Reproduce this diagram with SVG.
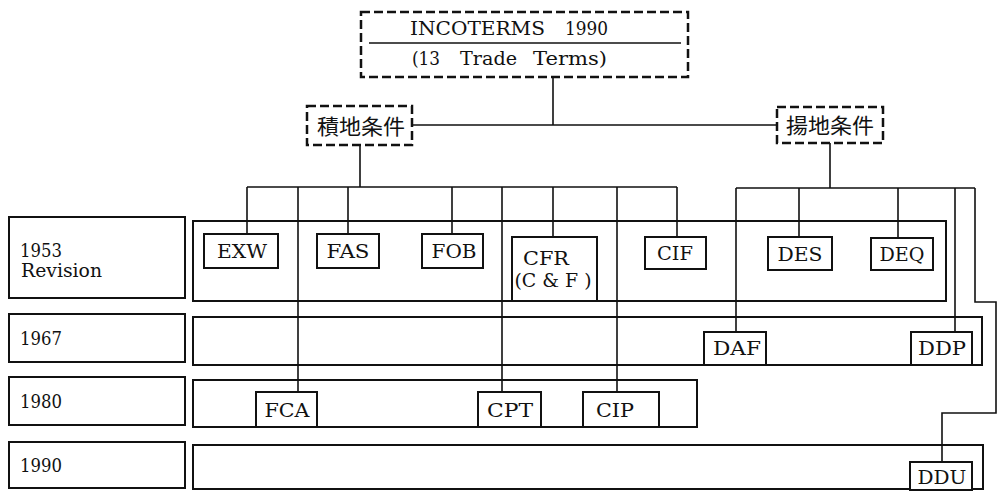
<svg xmlns="http://www.w3.org/2000/svg" width="997" height="491" viewBox="0 0 997 491">
<style>
.bg{fill:#fff}
.dash{fill:#fff;stroke:#111;stroke-width:2.5;stroke-dasharray:9 4}
.box{fill:#fff;stroke:#111;stroke-width:2}
.row{fill:none;stroke:#111;stroke-width:2}
.ln{fill:none;stroke:#111;stroke-width:1.6}
.t{font-family:"DejaVu Serif","Liberation Serif",serif;font-size:19px;fill:#111}
.c{text-anchor:middle}
.j{font-family:"Noto Sans CJK JP","Noto Sans CJK SC",sans-serif;font-size:21px;fill:#111;text-anchor:middle}
</style>
<rect class="bg" x="0" y="0" width="997" height="491"/>

<g id="rows">
  <g id="row-1953">
    <rect class="row" x="9" y="217" width="176" height="81"/>
    <rect class="row" x="193" y="221" width="753" height="80"/>
    <text class="t" x="20" y="257" textLength="42" lengthAdjust="spacingAndGlyphs">1953</text>
    <text class="t" x="21" y="277" textLength="81" lengthAdjust="spacingAndGlyphs">Revision</text>
  </g>
  <g id="row-1967">
    <rect class="row" x="9" y="314" width="176" height="48"/>
    <rect class="row" x="193" y="317" width="789" height="48"/>
    <text class="t" x="20" y="345" textLength="42" lengthAdjust="spacingAndGlyphs">1967</text>
  </g>
  <g id="row-1980">
    <rect class="row" x="9" y="377" width="176" height="48"/>
    <rect class="row" x="193" y="380" width="504" height="47"/>
    <text class="t" x="20" y="408" textLength="42" lengthAdjust="spacingAndGlyphs">1980</text>
  </g>
  <g id="row-1990">
    <rect class="row" x="9" y="442" width="176" height="46"/>
    <rect class="row" x="193" y="445" width="790" height="44"/>
    <text class="t" x="20" y="472" textLength="42" lengthAdjust="spacingAndGlyphs">1990</text>
  </g>
</g>

<g id="connectors">
  <path class="ln" d="M553 77V125M412 125H777"/>
  <path class="ln" d="M360 145V187M247 187H677"/>
  <path class="ln" d="M247 187V234M298 187V392M348 187V234M452 187V234M502 187V392M553 187V237M617 187V392M677 187V237"/>
  <path class="ln" d="M830 143V188M736 188H975"/>
  <path class="ln" d="M736 188V332M799 188V237M898 188V238M955 188V332"/>
  <path class="ln" d="M975 188V302H996V413H942V462"/>
</g>

<g id="incoterms">
  <rect class="dash" x="361" y="12" width="327" height="65"/>
  <line class="ln" x1="369" y1="43" x2="681" y2="43"/>
  <text class="t" y="35"><tspan x="410" textLength="135" lengthAdjust="spacingAndGlyphs">INCOTERMS</tspan> <tspan x="565" textLength="43" lengthAdjust="spacingAndGlyphs">1990</tspan></text>
  <text class="t" y="65"><tspan x="412" textLength="28" lengthAdjust="spacingAndGlyphs">(13</tspan> <tspan x="460" textLength="57" lengthAdjust="spacingAndGlyphs">Trade</tspan> <tspan x="533" textLength="74" lengthAdjust="spacingAndGlyphs">Terms)</tspan></text>
</g>

<g id="shipment">
  <rect class="dash" x="307" y="106" width="105" height="39"/>
  <text class="j" x="361" y="134" textLength="88" lengthAdjust="spacingAndGlyphs">積地条件</text>
</g>
<g id="arrival">
  <rect class="dash" x="777" y="107" width="106" height="36"/>
  <text class="j" x="830" y="133" textLength="88" lengthAdjust="spacingAndGlyphs">揚地条件</text>
</g>

<g id="EXW"><rect class="box" x="204" y="234" width="74" height="34"/><text class="t c" x="242" y="258" textLength="50" lengthAdjust="spacingAndGlyphs">EXW</text></g>
<g id="FAS"><rect class="box" x="317" y="234" width="62" height="34"/><text class="t c" x="348" y="258" textLength="43" lengthAdjust="spacingAndGlyphs">FAS</text></g>
<g id="FOB"><rect class="box" x="422" y="234" width="61" height="34"/><text class="t c" x="454" y="258" textLength="45" lengthAdjust="spacingAndGlyphs">FOB</text></g>
<g id="CFR"><rect class="box" x="512" y="237" width="85" height="64"/><text class="t c" x="546" y="265" textLength="46" lengthAdjust="spacingAndGlyphs">CFR</text><text class="t c" x="553" y="287" textLength="77" lengthAdjust="spacingAndGlyphs">(C &amp; F )</text></g>
<g id="CIF"><rect class="box" x="645" y="237" width="61" height="32"/><text class="t c" x="675" y="260" textLength="36" lengthAdjust="spacingAndGlyphs">CIF</text></g>
<g id="DES"><rect class="box" x="768" y="237" width="64" height="33"/><text class="t c" x="800" y="261" textLength="45" lengthAdjust="spacingAndGlyphs">DES</text></g>
<g id="DEQ"><rect class="box" x="871" y="238" width="62" height="32"/><text class="t c" x="902" y="261" textLength="45" lengthAdjust="spacingAndGlyphs">DEQ</text></g>
<g id="DAF"><rect class="box" x="704" y="332" width="62" height="33"/><text class="t c" x="737" y="355" textLength="48" lengthAdjust="spacingAndGlyphs">DAF</text></g>
<g id="DDP"><rect class="box" x="911" y="332" width="61" height="33"/><text class="t c" x="942" y="355" textLength="48" lengthAdjust="spacingAndGlyphs">DDP</text></g>
<g id="FCA"><rect class="box" x="256" y="392" width="61" height="35"/><text class="t c" x="287" y="417" textLength="45" lengthAdjust="spacingAndGlyphs">FCA</text></g>
<g id="CPT"><rect class="box" x="478" y="392" width="63" height="35"/><text class="t c" x="510" y="417" textLength="46" lengthAdjust="spacingAndGlyphs">CPT</text></g>
<g id="CIP"><rect class="box" x="583" y="392" width="76" height="35"/><text class="t c" x="615" y="417" textLength="38" lengthAdjust="spacingAndGlyphs">CIP</text></g>
<g id="DDU"><rect class="box" x="910" y="462" width="62" height="28"/><text class="t c" x="942" y="484" textLength="49" lengthAdjust="spacingAndGlyphs">DDU</text></g>
</svg>
